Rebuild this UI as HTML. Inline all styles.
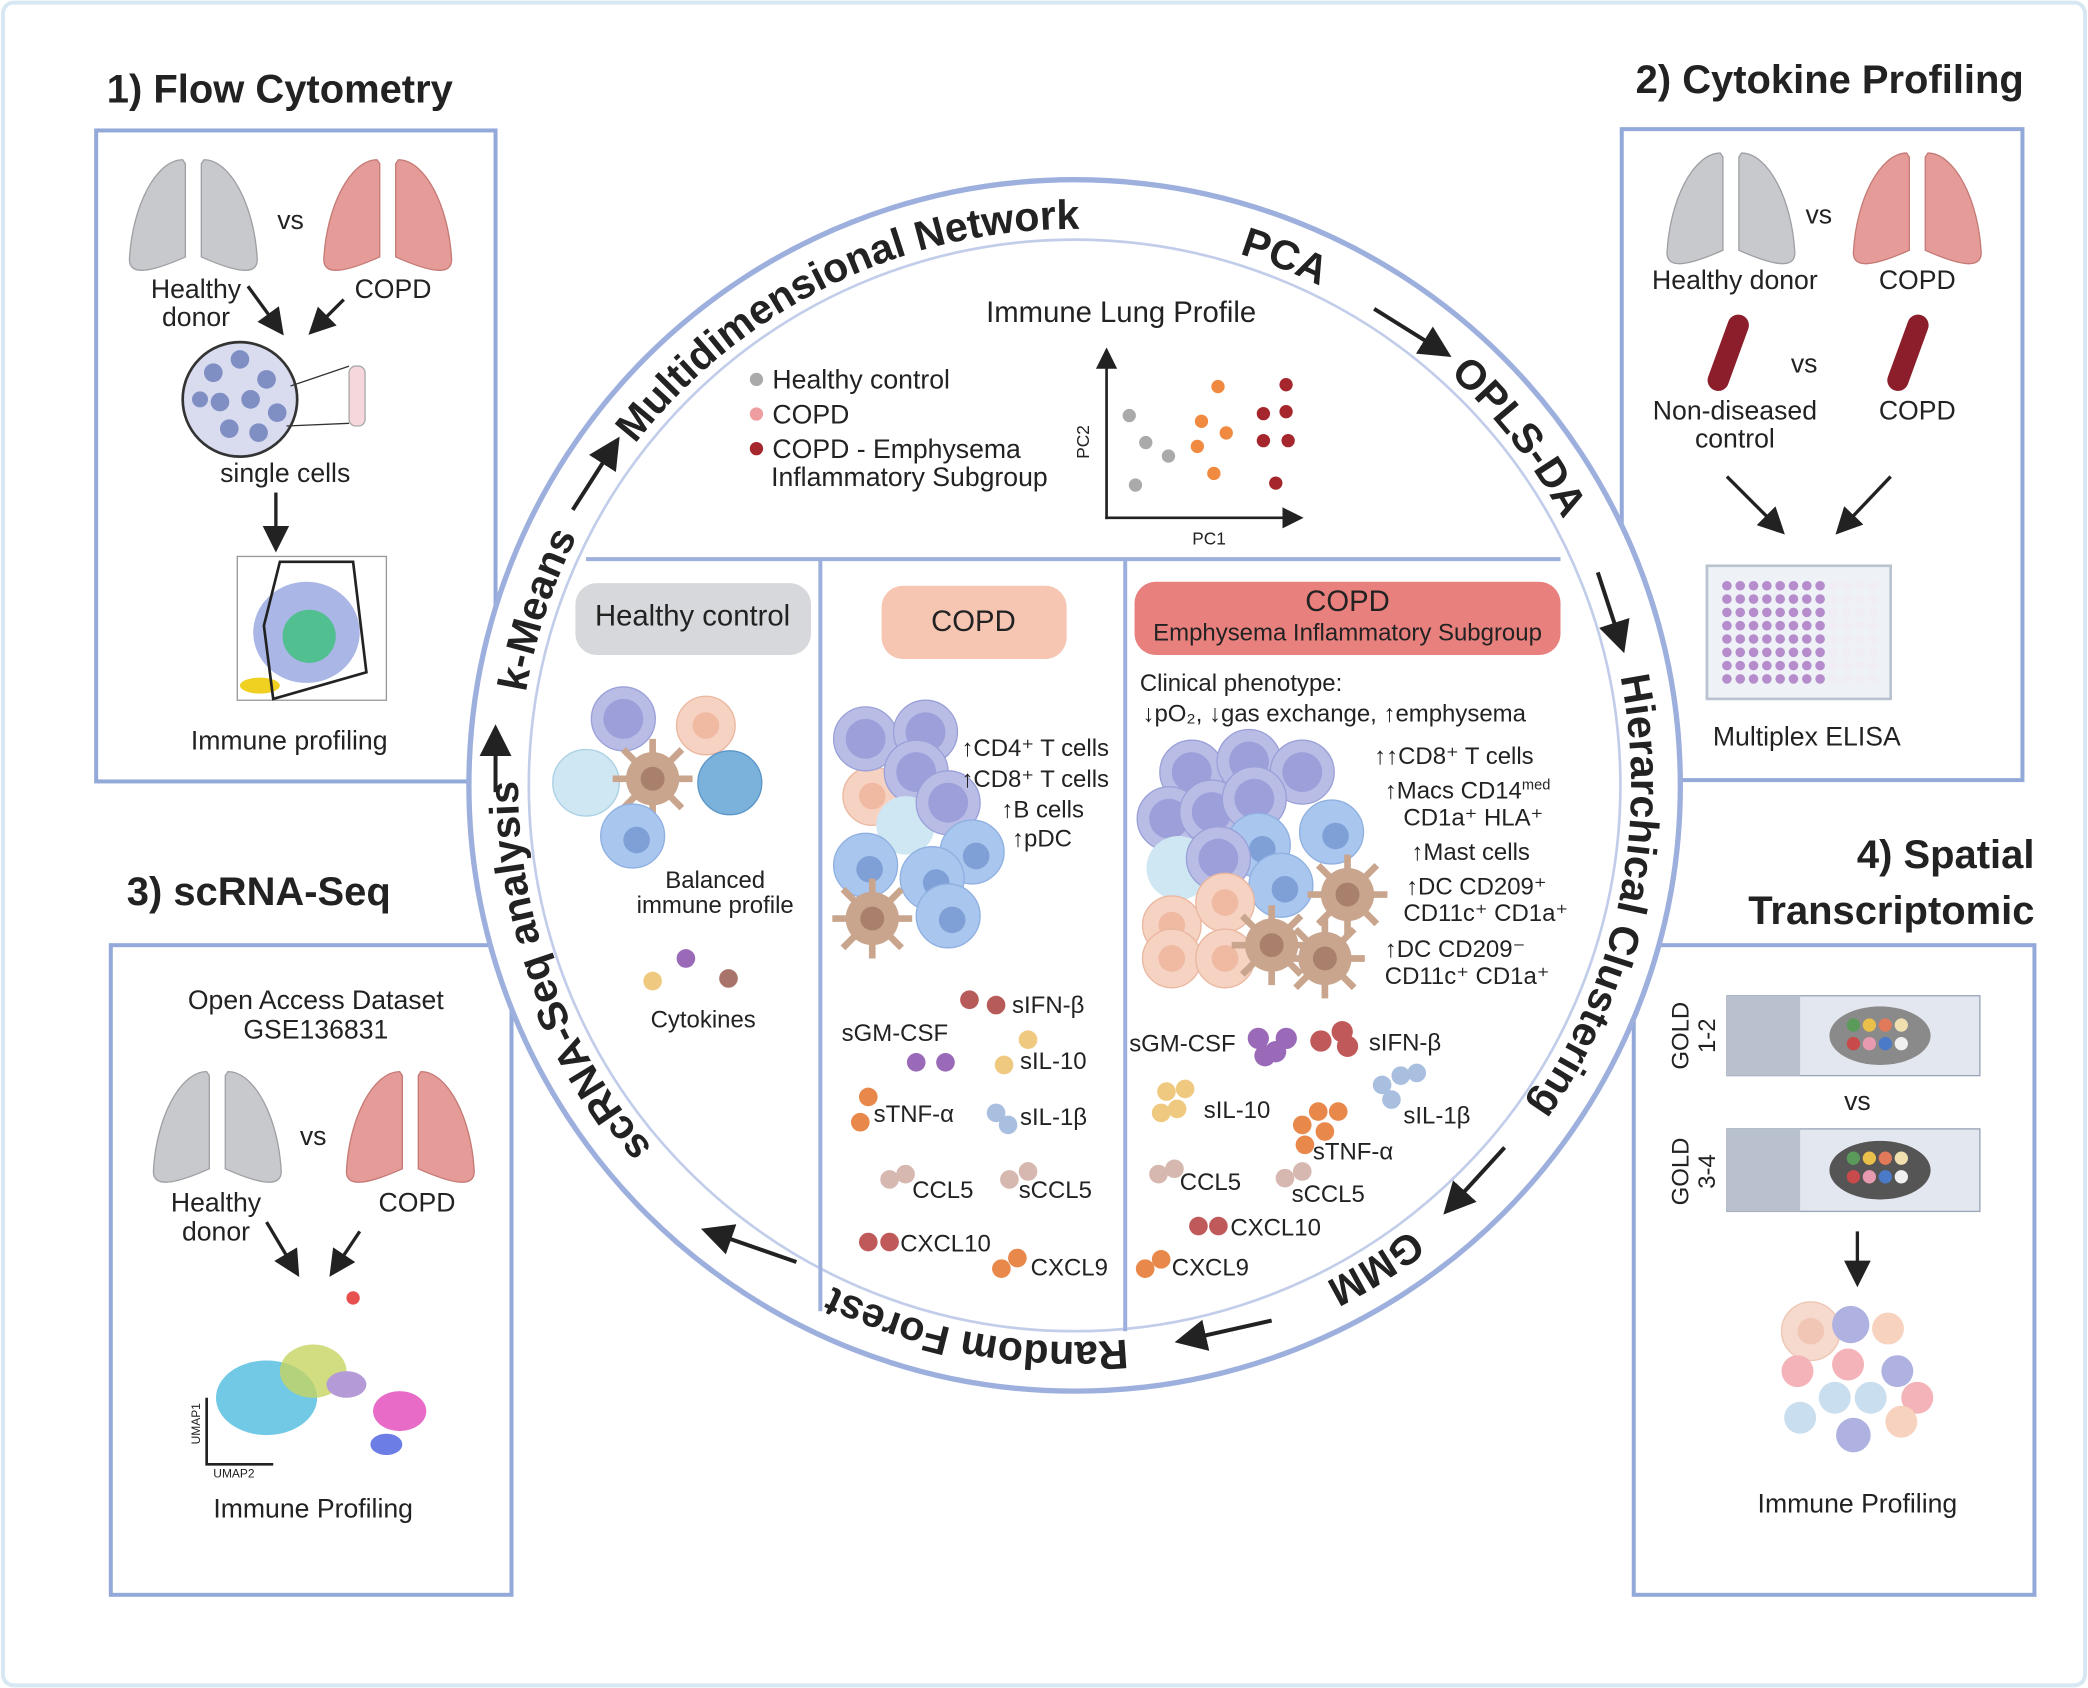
<!DOCTYPE html>
<html><head><meta charset="utf-8"><style>
html,body{margin:0;padding:0;background:#fff}
svg{display:block}
text{font-family:"Liberation Sans",sans-serif;fill:#222}
</style></head><body>
<svg width="2088" height="1688" viewBox="0 0 1568 1268" xmlns="http://www.w3.org/2000/svg">
<defs>
<marker id="ah" markerWidth="8" markerHeight="8" refX="6" refY="4" orient="auto" markerUnits="strokeWidth"><path d="M0,0 L8,4 L0,8 z" fill="#222"/></marker>
<path id="ring" d="M567.2,932.4 A418,418 0 0 1 1046.8,247.6 A418,418 0 0 1 567.2,932.4"/>
<g id="lungG"><path d="M40,5 C20,5 2,40 0,80 C0,92 15,90 42,78 L42,8 Z" fill="#c8c9cc" stroke="#9ea0a4"/><path d="M56,5 C76,5 94,40 96,80 C96,92 81,90 54,78 L54,8 Z" fill="#c8c9cc" stroke="#9ea0a4"/></g>
<g id="lungP"><path d="M40,5 C20,5 2,40 0,80 C0,92 15,90 42,78 L42,8 Z" fill="#e59c98" stroke="#c57a76"/><path d="M56,5 C76,5 94,40 96,80 C96,92 81,90 54,78 L54,8 Z" fill="#e59c98" stroke="#c57a76"/></g>
<g id="tcell"><circle r="24" fill="#b9bde6" stroke="#9aa0d8"/><circle r="15" fill="#9c9fd9"/></g>
<g id="mac"><circle r="24" fill="#a9c6ee" stroke="#8fb0e0"/><circle cx="3" cy="3" r="10" fill="#7fa0d6"/></g>
<g id="peach"><circle r="22" fill="#f6d2c2" stroke="#eab7a0"/><circle r="10" fill="#efb9a2"/></g>
<g id="dc"><circle r="20" fill="#c9a58e"/><path d="M-30,0 L30,0 M0,-30 L0,30 M-22,-22 L22,22 M-22,22 L22,-22" stroke="#c9a58e" stroke-width="5"/><circle r="9" fill="#a8806b"/></g>
</defs>
<rect x="2" y="2" width="1564" height="1264" rx="8" fill="#fff" stroke="#d7e8f2" stroke-width="3"/>

<!-- Flow cytometry -->
<g>
<text x="80" y="77" font-size="30" font-weight="bold">1) Flow Cytometry</text>
<rect x="72" y="98" width="300" height="489" fill="none" stroke="#93a9d9" stroke-width="3"/>
<use href="#lungG" x="97" y="115"/><text x="208" y="172" font-size="20">vs</text><use href="#lungP" x="243" y="115"/>
<text x="147" y="224" font-size="20" text-anchor="middle">Healthy</text><text x="147" y="245" font-size="20" text-anchor="middle">donor</text>
<text x="295" y="224" font-size="20" text-anchor="middle">COPD</text>
<line x1="186" y1="215" x2="210" y2="248" stroke="#222" stroke-width="2.5" marker-end="url(#ah)"/>
<line x1="258" y1="225" x2="235" y2="248" stroke="#222" stroke-width="2.5" marker-end="url(#ah)"/>
<circle cx="180" cy="300" r="43" fill="#d9dcef" stroke="#333" stroke-width="2"/>
<g fill="#7f8fc4"><circle cx="160" cy="280" r="7"/><circle cx="180" cy="270" r="7"/><circle cx="200" cy="285" r="7"/><circle cx="165" cy="302" r="7"/><circle cx="188" cy="300" r="7"/><circle cx="208" cy="310" r="7"/><circle cx="172" cy="322" r="7"/><circle cx="194" cy="325" r="7"/><circle cx="150" cy="300" r="6"/></g>
<line x1="218" y1="290" x2="262" y2="275" stroke="#333"/><line x1="215" y1="320" x2="262" y2="318" stroke="#333"/>
<rect x="262" y="275" width="12" height="45" rx="5" fill="#f5d7dc" stroke="#aaa"/>
<text x="214" y="362" font-size="20" text-anchor="middle">single cells</text>
<line x1="207" y1="370" x2="207" y2="410" stroke="#222" stroke-width="2.5" marker-end="url(#ah)"/>
<rect x="178" y="418" width="112" height="108" fill="#fff" stroke="#999"/>
<ellipse cx="230" cy="475" rx="40" ry="38" fill="#6f86d6" opacity="0.6"/><ellipse cx="232" cy="478" rx="20" ry="20" fill="#3cc27a" opacity="0.8"/><ellipse cx="195" cy="515" rx="15" ry="6" fill="#f0d020"/>
<path d="M210,422 L265,422 L275,505 L205,525 L198,470 Z" fill="none" stroke="#222" stroke-width="2"/>
<text x="217" y="563" font-size="20" text-anchor="middle">Immune profiling</text>
</g>

<!-- Cytokine -->
<g>
<text x="1520" y="70" font-size="30" font-weight="bold" text-anchor="end">2) Cytokine Profiling</text>
<rect x="1218" y="97" width="301" height="489" fill="none" stroke="#93a9d9" stroke-width="3"/>
<use href="#lungG" x="1252" y="110"/><text x="1356" y="168" font-size="20">vs</text><use href="#lungP" x="1392" y="110"/>
<text x="1303" y="217" font-size="20" text-anchor="middle">Healthy donor</text><text x="1440" y="217" font-size="20" text-anchor="middle">COPD</text>
<rect x="1290" y="235" width="16" height="60" rx="8" fill="#8b1e2a" transform="rotate(20 1298 265)"/>
<rect x="1425" y="235" width="16" height="60" rx="8" fill="#8b1e2a" transform="rotate(20 1433 265)"/>
<text x="1355" y="280" font-size="20" text-anchor="middle">vs</text>
<text x="1303" y="315" font-size="20" text-anchor="middle">Non-diseased</text><text x="1303" y="336" font-size="20" text-anchor="middle">control</text>
<text x="1440" y="315" font-size="20" text-anchor="middle">COPD</text>
<line x1="1297" y1="358" x2="1337" y2="398" stroke="#222" stroke-width="2.5" marker-end="url(#ah)"/>
<line x1="1420" y1="358" x2="1382" y2="398" stroke="#222" stroke-width="2.5" marker-end="url(#ah)"/>
<rect x="1282" y="425" width="138" height="100" fill="#eef1f6" stroke="#b9c3cf" stroke-width="2"/>
<g id="wells"></g>
<text x="1357" y="560" font-size="20" text-anchor="middle">Multiplex ELISA</text>
</g>

<!-- scRNA -->
<g>
<text x="95" y="680" font-size="30" font-weight="bold">3) scRNA-Seq</text>
<rect x="83" y="710" width="301" height="488" fill="none" stroke="#93a9d9" stroke-width="3"/>
<text x="237" y="758" font-size="20" text-anchor="middle">Open Access Dataset</text><text x="237" y="780" font-size="20" text-anchor="middle">GSE136831</text>
<use href="#lungG" x="115" y="800"/><text x="225" y="860" font-size="20">vs</text><use href="#lungP" x="260" y="800"/>
<text x="162" y="910" font-size="20" text-anchor="middle">Healthy</text><text x="162" y="932" font-size="20" text-anchor="middle">donor</text>
<text x="313" y="910" font-size="20" text-anchor="middle">COPD</text>
<line x1="200" y1="918" x2="222" y2="955" stroke="#222" stroke-width="2.5" marker-end="url(#ah)"/>
<line x1="270" y1="925" x2="250" y2="955" stroke="#222" stroke-width="2.5" marker-end="url(#ah)"/>
<ellipse cx="200" cy="1050" rx="38" ry="28" fill="#4dbbe0" opacity="0.8"/><ellipse cx="235" cy="1030" rx="25" ry="20" fill="#c6d460" opacity="0.8"/><ellipse cx="260" cy="1040" rx="15" ry="10" fill="#b59ad8"/><ellipse cx="300" cy="1060" rx="20" ry="15" fill="#e86bc8"/><ellipse cx="290" cy="1085" rx="12" ry="8" fill="#6d7de6"/><circle cx="265" cy="975" r="5" fill="#e85050"/>
<path d="M155,1050 L155,1100 L205,1100" fill="none" stroke="#222" stroke-width="2"/>
<text x="150" y="1085" font-size="9" transform="rotate(-90 150 1085)">UMAP1</text><text x="160" y="1110" font-size="9">UMAP2</text>
<text x="235" y="1140" font-size="20" text-anchor="middle">Immune Profiling</text>
</g>

<!-- Spatial -->
<g>
<text x="1528" y="652" font-size="30" font-weight="bold" text-anchor="end">4) Spatial</text>
<text x="1528" y="694" font-size="30" font-weight="bold" text-anchor="end">Transcriptomic</text>
<rect x="1227" y="710" width="301" height="488" fill="none" stroke="#93a9d9" stroke-width="3"/>
<rect x="1297" y="748" width="190" height="60" fill="#e3e7ef" stroke="#9aa5b8"/><rect x="1297" y="748" width="55" height="60" fill="#b9c1cf"/>
<ellipse cx="1412" cy="778" rx="38" ry="22" fill="#8a8a8a"/><circle cx="1392" cy="770" r="5" fill="#5a9a5a"/><circle cx="1404" cy="770" r="5" fill="#e8c04a"/><circle cx="1416" cy="770" r="5" fill="#e07a5a"/><circle cx="1428" cy="770" r="5" fill="#f0e0b0"/><circle cx="1392" cy="784" r="5" fill="#c84a4a"/><circle cx="1404" cy="784" r="5" fill="#e89ab0"/><circle cx="1416" cy="784" r="5" fill="#4a7ac8"/><circle cx="1428" cy="784" r="5" fill="#f0f0f0"/>
<text x="1268" y="778" font-size="18" text-anchor="middle" transform="rotate(-90 1268 778)">GOLD</text><text x="1288" y="778" font-size="18" text-anchor="middle" transform="rotate(-90 1288 778)">1-2</text>
<text x="1395" y="834" font-size="20" text-anchor="middle">vs</text>
<rect x="1297" y="848" width="190" height="62" fill="#e3e7ef" stroke="#9aa5b8"/><rect x="1297" y="848" width="55" height="62" fill="#b9c1cf"/>
<ellipse cx="1412" cy="879" rx="38" ry="22" fill="#555"/><circle cx="1392" cy="870" r="5" fill="#5a9a5a"/><circle cx="1404" cy="870" r="5" fill="#e8c04a"/><circle cx="1416" cy="870" r="5" fill="#e07a5a"/><circle cx="1428" cy="870" r="5" fill="#f0e0b0"/><circle cx="1392" cy="884" r="5" fill="#c84a4a"/><circle cx="1404" cy="884" r="5" fill="#e89ab0"/><circle cx="1416" cy="884" r="5" fill="#4a7ac8"/><circle cx="1428" cy="884" r="5" fill="#f0f0f0"/>
<text x="1268" y="880" font-size="18" text-anchor="middle" transform="rotate(-90 1268 880)">GOLD</text><text x="1288" y="880" font-size="18" text-anchor="middle" transform="rotate(-90 1288 880)">3-4</text>
<line x1="1395" y1="925" x2="1395" y2="962" stroke="#222" stroke-width="2.5" marker-end="url(#ah)"/>
<g opacity="0.8"><use href="#peach" x="1360" y="1000"/><circle cx="1390" cy="995" r="14" fill="#9c9fd9"/><circle cx="1418" cy="998" r="12" fill="#f6c8b0"/><circle cx="1350" cy="1030" r="12" fill="#f2a0a8"/><circle cx="1388" cy="1025" r="12" fill="#f2a0a8"/><circle cx="1425" cy="1030" r="12" fill="#9c9fd9"/><circle cx="1378" cy="1050" r="12" fill="#bcd6ea"/><circle cx="1405" cy="1050" r="12" fill="#bcd6ea"/><circle cx="1440" cy="1050" r="12" fill="#f2a0a8"/><circle cx="1352" cy="1065" r="12" fill="#bcd6ea"/><circle cx="1392" cy="1078" r="13" fill="#9c9fd9"/><circle cx="1428" cy="1068" r="12" fill="#f6c8b0"/></g>
<text x="1395" y="1136" font-size="20" text-anchor="middle">Immune Profiling</text>
</g>

<!-- Central ring -->
<g>
<circle cx="807" cy="590" r="455" fill="#fff" stroke="#9dafdd" stroke-width="4"/>
<circle cx="807" cy="590" r="410" fill="none" stroke="#c2cdea" stroke-width="2"/>
<g font-size="31" font-weight="bold">
<text text-anchor="middle"><textPath href="#ring" startOffset="33.1%">Multidimensional Network</textPath></text>
<text text-anchor="middle"><textPath href="#ring" startOffset="46.3%">PCA</textPath></text>
<text text-anchor="middle"><textPath href="#ring" startOffset="54.7%">OPLS-DA</textPath></text>
<text text-anchor="middle"><textPath href="#ring" startOffset="68.6%">Hierarchical Clustering</textPath></text>
<text text-anchor="middle"><textPath href="#ring" startOffset="81.4%">GMM</textPath></text>
<text text-anchor="middle"><textPath href="#ring" startOffset="93.1%">Random Forest</textPath></text>
<text text-anchor="middle"><textPath href="#ring" startOffset="9.7%">scRNA-Seq analysis</textPath></text>
<text text-anchor="middle"><textPath href="#ring" startOffset="20.3%">k-Means</textPath></text>
</g>
<g stroke="#222" stroke-width="3" fill="none">
<line x1="1032" y1="232" x2="1085" y2="265" marker-end="url(#ah)"/>
<line x1="1200" y1="430" x2="1218" y2="485" marker-end="url(#ah)"/>
<line x1="1130" y1="862" x2="1088" y2="908" marker-end="url(#ah)"/>
<line x1="955" y1="992" x2="888" y2="1007" marker-end="url(#ah)"/>
<line x1="598" y1="948" x2="532" y2="925" marker-end="url(#ah)"/>
<line x1="372" y1="595" x2="372" y2="550" marker-end="url(#ah)"/>
<line x1="430" y1="383" x2="462" y2="333" marker-end="url(#ah)"/>
</g>
<line x1="440" y1="420" x2="1172" y2="420" stroke="#9dafdd" stroke-width="3"/>
<line x1="616" y1="420" x2="616" y2="985" stroke="#9dafdd" stroke-width="3"/>
<line x1="845" y1="420" x2="845" y2="1000" stroke="#9dafdd" stroke-width="3"/>
</g>

<!-- PCA plot -->
<g>
<text x="842" y="242" font-size="22" text-anchor="middle">Immune Lung Profile</text>
<circle cx="568" cy="285" r="5" fill="#aaa"/><text x="580" y="292" font-size="20">Healthy control</text>
<circle cx="568" cy="311" r="5" fill="#ef9ea0"/><text x="580" y="318" font-size="20">COPD</text>
<circle cx="568" cy="337" r="5" fill="#a5262c"/><text x="580" y="344" font-size="20">COPD - Emphysema</text>
<text x="579" y="365" font-size="20">Inflammatory Subgroup</text>
<line x1="831" y1="390" x2="831" y2="265" stroke="#222" stroke-width="2" marker-end="url(#ah)"/>
<line x1="830" y1="389" x2="975" y2="389" stroke="#222" stroke-width="2" marker-end="url(#ah)"/>
<text x="818" y="332" font-size="13" text-anchor="middle" transform="rotate(-90 818 332)">PC2</text>
<text x="908" y="409" font-size="13" text-anchor="middle">PC1</text>
<g id="pts"></g>
</g>

<!-- Healthy panel -->
<g>
<rect x="432" y="438" width="177" height="54" rx="16" fill="#d6d8dc"/>
<text x="520" y="470" font-size="22" text-anchor="middle">Healthy control</text>
<use href="#tcell" x="468" y="540"/><use href="#peach" x="530" y="545"/><circle cx="440" cy="588" r="25" fill="#cfe7f2" stroke="#a9d0e4"/><use href="#dc" x="490" y="585"/><circle cx="548" cy="588" r="24" fill="#7ab2dc" stroke="#5b96c8"/><use href="#mac" x="475" y="628"/>
<text x="537" y="667" font-size="18" text-anchor="middle">Balanced</text><text x="537" y="686" font-size="18" text-anchor="middle">immune profile</text>
<circle cx="515" cy="720" r="7" fill="#9a6ab8"/><circle cx="490" cy="737" r="7" fill="#efc980"/><circle cx="547" cy="735" r="7" fill="#a8746a"/>
<text x="528" y="772" font-size="18" text-anchor="middle">Cytokines</text>
</g>

<!-- COPD panel -->
<g>
<rect x="662" y="440" width="139" height="55" rx="16" fill="#f6c6b2"/>
<text x="731" y="474" font-size="22" text-anchor="middle">COPD</text>
<use href="#peach" x="655" y="598"/><use href="#tcell" x="650" y="555"/><use href="#tcell" x="695" y="550"/><use href="#tcell" x="688" y="580"/><circle cx="680" cy="620" r="22" fill="#cfe7f2"/><use href="#tcell" x="712" y="603"/><use href="#mac" x="650" y="650"/><use href="#mac" x="730" y="640"/><use href="#mac" x="700" y="660"/><use href="#mac" x="712" y="688"/><use href="#dc" x="655" y="690"/>
<g font-size="18"><text x="722" y="568">↑CD4⁺ T cells</text><text x="722" y="591">↑CD8⁺ T cells</text><text x="752" y="614">↑B cells</text><text x="760" y="636">↑pDC</text>
<text x="760" y="761">sIFN-β</text><text x="632" y="782">sGM-CSF</text><text x="766" y="803">sIL-10</text><text x="656" y="843">sTNF-α</text><text x="766" y="845">sIL-1β</text><text x="685" y="900">CCL5</text><text x="765" y="900">sCCL5</text><text x="676" y="940">CXCL10</text><text x="774" y="958">CXCL9</text></g>
<g><circle cx="728" cy="751" r="7" fill="#b65a5a"/><circle cx="748" cy="755" r="7" fill="#b65a5a"/><circle cx="772" cy="781" r="7" fill="#efc980"/><circle cx="688" cy="798" r="7" fill="#9a6ab8"/><circle cx="710" cy="798" r="7" fill="#9a6ab8"/><circle cx="754" cy="800" r="7" fill="#efc980"/><circle cx="652" cy="824" r="7" fill="#e8884a"/><circle cx="646" cy="843" r="7" fill="#e8884a"/><circle cx="748" cy="836" r="7" fill="#a9bfe0"/><circle cx="757" cy="845" r="7" fill="#a9bfe0"/><circle cx="668" cy="886" r="7" fill="#d6b8b0"/><circle cx="680" cy="882" r="7" fill="#d6b8b0"/><circle cx="758" cy="886" r="7" fill="#d6b8b0"/><circle cx="772" cy="880" r="7" fill="#d6b8b0"/><circle cx="652" cy="933" r="7" fill="#c05a5a"/><circle cx="668" cy="933" r="7" fill="#c05a5a"/><circle cx="752" cy="953" r="7" fill="#e8884a"/><circle cx="764" cy="945" r="7" fill="#e8884a"/></g>
</g>

<!-- Emphysema panel -->
<g>
<rect x="852" y="437" width="320" height="55" rx="16" fill="#e8807e"/>
<text x="1012" y="459" font-size="22" text-anchor="middle">COPD</text>
<text x="1012" y="481" font-size="18" text-anchor="middle">Emphysema Inflammatory Subgroup</text>
<g font-size="18"><text x="856" y="519">Clinical phenotype:</text><text x="858" y="542">↓pO₂, ↓gas exchange, ↑emphysema</text>
<text x="1032" y="574">↑↑CD8⁺ T cells</text><text x="1040" y="600">↑Macs CD14<tspan font-size="11" dy="-7">med</tspan></text><text x="1054" y="620">CD1a⁺ HLA⁺</text><text x="1060" y="646">↑Mast cells</text><text x="1056" y="672">↑DC CD209⁺</text><text x="1054" y="692">CD11c⁺ CD1a⁺</text><text x="1040" y="719">↑DC CD209⁻</text><text x="1040" y="739">CD11c⁺ CD1a⁺</text>
<text x="848" y="790">sGM-CSF</text><text x="1028" y="789">sIFN-β</text><text x="904" y="840">sIL-10</text><text x="1054" y="844">sIL-1β</text><text x="986" y="871">sTNF-α</text><text x="886" y="894">CCL5</text><text x="970" y="903">sCCL5</text><text x="924" y="928">CXCL10</text><text x="880" y="958">CXCL9</text></g>
<use href="#tcell" x="895" y="580"/><use href="#tcell" x="938" y="572"/><use href="#tcell" x="978" y="580"/><use href="#tcell" x="878" y="615"/><use href="#tcell" x="910" y="610"/><use href="#tcell" x="942" y="600"/><use href="#mac" x="945" y="635"/><use href="#mac" x="1000" y="625"/><circle cx="885" cy="652" r="24" fill="#cfe7f2"/><use href="#tcell" x="915" y="645"/><use href="#mac" x="962" y="665"/><use href="#peach" x="880" y="695"/><use href="#peach" x="920" y="678"/><use href="#peach" x="880" y="720"/><use href="#peach" x="920" y="720"/><use href="#dc" x="1012" y="672"/><use href="#dc" x="955" y="710"/><use href="#dc" x="995" y="720"/>
<g><circle cx="945" cy="780" r="8" fill="#9a6ab8"/><circle cx="958" cy="790" r="8" fill="#9a6ab8"/><circle cx="966" cy="780" r="8" fill="#9a6ab8"/><circle cx="950" cy="793" r="8" fill="#9a6ab8"/><circle cx="992" cy="782" r="8" fill="#c05a5a"/><circle cx="1008" cy="775" r="8" fill="#c05a5a"/><circle cx="1012" cy="786" r="8" fill="#c05a5a"/><circle cx="876" cy="820" r="7" fill="#efc980"/><circle cx="890" cy="818" r="7" fill="#efc980"/><circle cx="884" cy="833" r="7" fill="#efc980"/><circle cx="872" cy="836" r="7" fill="#efc980"/><circle cx="1038" cy="815" r="7" fill="#a9bfe0"/><circle cx="1052" cy="808" r="7" fill="#a9bfe0"/><circle cx="1064" cy="806" r="7" fill="#a9bfe0"/><circle cx="1045" cy="826" r="7" fill="#a9bfe0"/><circle cx="990" cy="835" r="7" fill="#e8884a"/><circle cx="1005" cy="835" r="7" fill="#e8884a"/><circle cx="978" cy="845" r="7" fill="#e8884a"/><circle cx="995" cy="850" r="7" fill="#e8884a"/><circle cx="980" cy="860" r="7" fill="#e8884a"/><circle cx="870" cy="882" r="7" fill="#d6b8b0"/><circle cx="882" cy="878" r="7" fill="#d6b8b0"/><circle cx="965" cy="885" r="7" fill="#d6b8b0"/><circle cx="978" cy="880" r="7" fill="#d6b8b0"/><circle cx="900" cy="921" r="7" fill="#c05a5a"/><circle cx="915" cy="921" r="7" fill="#c05a5a"/><circle cx="860" cy="953" r="7" fill="#e8884a"/><circle cx="872" cy="946" r="7" fill="#e8884a"/></g>
</g>
</svg>
<script>
const groups = ['healthy','healthy','healthy','healthy','copd','copd','copd','copd','copd','emph','emph','emph','emph','emph','emph'];
const pc1Values = [1.1,1.9,3.0,1.4,5.4,4.6,5.8,4.4,5.2,8.7,7.6,8.7,7.6,8.8,8.2];
const pc2Values = [5.3,3.9,3.2,1.7,6.8,5.0,4.4,3.7,2.3,6.9,5.4,5.5,4.0,4.0,1.8];
const colors = {healthy:'#aaa', copd:'#f08a40', emph:'#a5262c'};
const NS='http://www.w3.org/2000/svg';
function xS(v){return 831+v*15.5;}
function yS(v){return 389-v*14.5;}
const pts=document.getElementById('pts');
for(let i=0;i<pc1Values.length;i++){
  const c=document.createElementNS(NS,'circle');
  c.setAttribute('cx',xS(pc1Values[i]));c.setAttribute('cy',yS(pc2Values[i]));c.setAttribute('r',5);
  c.setAttribute('fill',colors[groups[i]]);
  
  
  pts.appendChild(c);
}
const w=document.getElementById('wells');
for(let r=0;r<8;r++)for(let k=0;k<12;k++){
  const c=document.createElementNS(NS,'circle');
  c.setAttribute('cx',1297+k*10);c.setAttribute('cy',440+r*10);c.setAttribute('r',3.6);
  c.setAttribute('fill',k<8?'#b68ccc':'#f0eef4');
  
  
  w.appendChild(c);
}
</script>
</body></html>
